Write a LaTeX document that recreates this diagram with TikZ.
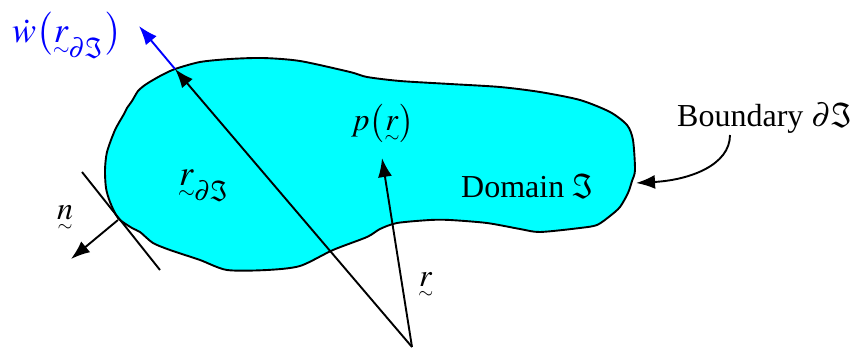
\documentclass[tikz,border=0pt]{standalone}
\usepackage{amsmath}
\usepackage{mathptmx}
\usepackage[no-math]{fontspec}
\setmainfont{Liberation Serif}
\usetikzlibrary{arrows.meta}
\definecolor{domcyan}{RGB}{0,255,255}
\definecolor{lblblue}{RGB}{0,0,255}
\newcommand{\tvec}[1]{\mathord{\ooalign{$#1$\cr\hidewidth\raisebox{-0.36em}{$\scriptscriptstyle\sim$}\hidewidth\cr}}}
\newcommand{\szl}[1]{\mathopen{\delimiterfactor=1000\delimitershortfall=0pt\left(\vcenter to #1{}\right.}}
\newcommand{\szr}[1]{\mathclose{\delimiterfactor=1000\delimitershortfall=0pt\left.\vcenter to #1{}\right)}}
\begin{document}
\begin{tikzpicture}[x=1pt,y=-1pt,
  lbl/.style={inner sep=0pt,font=\fontsize{32}{38}\selectfont},
  biglbl/.style={inner sep=0pt,font=\fontsize{36}{42}\selectfont},
  edge/.style={line width=1.9pt},
  arr/.style={line width=1.9pt,-{Latex[length=19pt,width=14pt]}}]
\useasboundingbox (0,0) rectangle (855,350);
% domain
\draw[line width=1.9pt,fill=domcyan] plot[smooth cycle,tension=0.45] coordinates {
 (175,69) (200,62) (230,59) (263,58) (300,61) (350,72) (367,77) (400,81)
 (450,84) (500,87) (540,92) (580,100) (610,112) (627,125) (633,140) (635,170)
 (632,181) (628,193) (620,207) (610,216) (597,225) (580,228) (540,232) (520,229)
 (487,223) (450,220) (430,220) (397,223) (380,229) (367,237) (333,250) (300,266)
 (267,270) (227,270) (200,260) (170,250) (153,243) (140,232) (132,228) (118,218)
 (110,202) (106,188) (105,170) (107,152) (115,130) (124,114) (127,108) (132,101)
 (138,91) (145,85) (153,80) (162,75)};
% coordinates
\coordinate (O) at (412,347);
\coordinate (B) at (175,69);
\coordinate (P) at (382,158);
\coordinate (W) at (139,26);
\coordinate (T1) at (82,172);
\coordinate (T2) at (160,270);
\coordinate (C) at (118,220);
\coordinate (N) at (71,259);
\coordinate (E) at (636,183);
% labels
\node[lbl,anchor=base west] (bnd) at (677,127) {Boundary $\partial\Im$};
\node[lbl,anchor=base west] (dom) at (461,198) {Domain $\Im$};
\node[lbl,anchor=base west] (p) at (351,131) {$p\szl{39pt}\tvec{r}\szr{39pt}$};
\node[lbl,anchor=base west] (n) at (57,220) {$\tvec{n}$};
\node[lbl,anchor=base west] (r) at (419,287) {$\tvec{r}$};
\node[biglbl,anchor=base west] (rb) at (179,186) {${\tvec{r}}_{\partial\Im}$};
\node[biglbl,anchor=base west,text=lblblue] (wd) at (12,43) {$\dot{w}\szl{47pt}{\tvec{r}}_{\partial\Im}\szr{47pt}$};
\coordinate (S) at (730,135);
% connectors
\draw[arr] (O) -- (B);
\draw[arr] (O) -- (P);
\draw[arr,draw=lblblue,fill=lblblue] (B) -- (W);
\draw[edge] (T1) -- (T2);
\draw[arr] (C) -- (N);
\draw[arr] (S) .. controls (730,165) and (690,180) .. (E);
\end{tikzpicture}
\end{document}
